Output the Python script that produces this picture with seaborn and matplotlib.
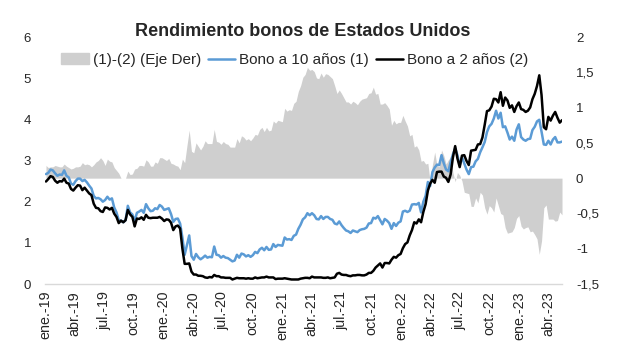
import matplotlib.pyplot as plt
import matplotlib.patches as mpatches
import matplotlib.lines as mlines
import numpy as np
import pandas as pd
import seaborn as sns

# weekly closes (friday), yields in %
bono10_2019 = [2.67, 2.70, 2.78, 2.76, 2.69, 2.63, 2.66, 2.65, 2.76, 2.63, 2.59, 2.44, 2.41,
               2.50, 2.56, 2.56, 2.50, 2.53, 2.47, 2.39, 2.32, 2.14, 2.08, 2.09, 2.06, 2.00,
               2.04, 2.12, 2.05, 2.08, 1.86, 1.74, 1.55, 1.54, 1.50, 1.55, 1.90, 1.74, 1.69,
               1.53, 1.73, 1.76, 1.80, 1.73, 1.94, 1.84, 1.77, 1.78, 1.84, 1.82, 1.92, 1.88]
bono2_2019 = [2.49, 2.55, 2.62, 2.60, 2.51, 2.46, 2.50, 2.49, 2.56, 2.46, 2.44, 2.31, 2.27,
              2.34, 2.40, 2.39, 2.28, 2.34, 2.27, 2.20, 2.16, 1.95, 1.85, 1.84, 1.77, 1.75,
              1.86, 1.85, 1.81, 1.85, 1.71, 1.63, 1.48, 1.54, 1.50, 1.55, 1.80, 1.69, 1.63,
              1.40, 1.59, 1.58, 1.62, 1.56, 1.68, 1.61, 1.60, 1.61, 1.61, 1.61, 1.63, 1.59]

bono10_2020 = [1.80, 1.82, 1.84, 1.70, 1.51, 1.58, 1.59, 1.47, 1.13, 0.71, 0.95, 1.18, 0.68,
               0.59, 0.73, 0.65, 0.60, 0.64, 0.69, 0.64, 0.66, 0.65, 0.91, 0.71, 0.70, 0.64,
               0.68, 0.64, 0.63, 0.59, 0.55, 0.57, 0.71, 0.64, 0.74, 0.72, 0.67, 0.70, 0.66,
               0.70, 0.78, 0.75, 0.84, 0.88, 0.82, 0.90, 0.83, 0.84, 0.97, 0.90, 0.95, 0.94]
bono2_2020 = [1.53, 1.57, 1.56, 1.49, 1.31, 1.40, 1.42, 1.35, 0.86, 0.49, 0.49, 0.50, 0.30,
              0.23, 0.23, 0.20, 0.20, 0.19, 0.16, 0.15, 0.17, 0.16, 0.22, 0.19, 0.19, 0.16,
              0.16, 0.15, 0.15, 0.15, 0.11, 0.13, 0.15, 0.14, 0.14, 0.14, 0.13, 0.14, 0.13,
              0.13, 0.16, 0.14, 0.15, 0.16, 0.16, 0.18, 0.16, 0.16, 0.16, 0.12, 0.13, 0.13]

bono10_2021 = [0.93, 1.13, 1.08, 1.09, 1.07, 1.17, 1.20, 1.34, 1.44, 1.57, 1.62, 1.72, 1.67,
               1.72, 1.67, 1.58, 1.57, 1.65, 1.58, 1.63, 1.63, 1.58, 1.56, 1.47, 1.45, 1.52,
               1.43, 1.36, 1.30, 1.28, 1.24, 1.30, 1.28, 1.26, 1.31, 1.33, 1.34, 1.37, 1.47,
               1.48, 1.61, 1.59, 1.65, 1.55, 1.45, 1.58, 1.54, 1.48, 1.34, 1.48, 1.41, 1.49, 1.52]
bono2_2021 = [0.13, 0.14, 0.13, 0.12, 0.11, 0.11, 0.11, 0.11, 0.13, 0.14, 0.15, 0.15, 0.14,
              0.18, 0.16, 0.16, 0.16, 0.16, 0.15, 0.15, 0.16, 0.14, 0.15, 0.16, 0.25, 0.27,
              0.23, 0.22, 0.22, 0.20, 0.19, 0.21, 0.21, 0.22, 0.22, 0.21, 0.21, 0.23, 0.27,
              0.27, 0.32, 0.40, 0.45, 0.50, 0.40, 0.51, 0.51, 0.50, 0.59, 0.66, 0.64, 0.70, 0.73]

bono10_2022 = [1.76, 1.78, 1.75, 1.78, 1.93, 1.94, 1.93, 1.97, 1.74, 2.00, 2.14, 2.48,
               2.38, 2.72, 2.83, 2.90, 2.89, 3.13, 2.93, 2.78, 2.74, 2.96, 3.15, 3.30, 3.13,
               2.88, 3.08, 2.93, 2.78, 2.67, 2.84, 2.85, 2.98, 3.04, 3.20, 3.32, 3.45, 3.69, 3.83,
               3.89, 4.02, 4.21, 4.02, 4.16, 3.81, 3.83, 3.68, 3.51, 3.58, 3.48, 3.75, 3.88]
bono2_2022 = [0.87, 0.97, 1.01, 1.18, 1.31, 1.50, 1.47, 1.57, 1.50, 1.75, 1.94, 2.27,
              2.44, 2.53, 2.46, 2.72, 2.73, 2.73, 2.61, 2.58, 2.48, 2.66, 3.07, 3.35, 3.05,
              2.84, 3.12, 3.13, 2.99, 2.89, 3.24, 3.25, 3.26, 3.39, 3.40, 3.56, 3.87, 4.20, 4.22,
              4.31, 4.50, 4.49, 4.41, 4.66, 4.33, 4.53, 4.46, 4.28, 4.34, 4.18, 4.32, 4.41]

bono10_2023 = [3.57, 3.51, 3.48, 3.52, 3.53, 3.74, 3.82, 3.95, 3.99, 3.70, 3.39, 3.38, 3.48,
               3.39, 3.51, 3.57, 3.44, 3.44, 3.46]
bono2_2023 = [4.25, 4.23, 4.18, 4.21, 4.29, 4.49, 4.62, 4.81, 5.07, 4.59, 3.81, 3.76, 4.06,
              3.97, 4.09, 4.18, 4.04, 3.92, 3.98]

meses = ["ene.", "abr.", "jul.", "oct."]
ticks_der = [-1.5, -1, -0.5, 0, 0.5, 1, 1.5, 2]

fechas = pd.date_range("2019-01-04", "2023-05-12", freq="W-FRI")
bono10 = bono10_2019 + bono10_2020 + bono10_2021 + bono10_2022 + bono10_2023
bono2 = bono2_2019 + bono2_2020 + bono2_2021 + bono2_2022 + bono2_2023
df = pd.DataFrame({"fecha": fechas, "bono10": bono10, "bono2": bono2})
df["spread"] = df.bono10 - df.bono2

sns.set_theme(style="white")
plt.rcParams['font.family'] = ['Liberation Sans', 'DejaVu Sans']

azul = "#5B9BD5"
gris = "#CFCFCF"

fig = plt.figure(figsize=(6.21, 3.63), dpi=100)
ax = fig.add_axes([0.0725, 0.2176, 0.8325, 0.6804])
ax2 = ax.twinx()

ax2.fill_between(df.fecha, df.spread, 0, color=gris, linewidth=0)
ax.set_zorder(ax2.get_zorder() + 1)
ax.patch.set_visible(False)

sns.lineplot(data=df, x="fecha", y="bono10", color=azul, lw=1.8, ax=ax)
sns.lineplot(data=df, x="fecha", y="bono2", color="black", lw=1.8, ax=ax)

ax.set_xlim(df.fecha.iloc[0], df.fecha.iloc[-1])
ax.set_ylim(0, 6)
ax2.set_ylim(-1.5, 2)
ax.set_xlabel("")
ax.set_ylabel("")

ax.set_yticks(range(7))
ax.set_yticklabels([str(v) for v in range(7)], fontsize=9.5)
ax2.set_yticks(ticks_der)
ax2.set_yticklabels([("%g" % v).replace(".", ",") for v in ticks_der], fontsize=9.5)

xt = pd.date_range("2019-01-01", "2023-04-01", freq="3MS")
ax.set_xticks(xt)
ax.set_xticklabels([meses[(d.month - 1) // 3] + "-" + d.strftime("%y") for d in xt],
                   rotation=90, fontsize=10.3)

ax.tick_params(axis="both", length=0)
ax.tick_params(axis="y", pad=10)
ax.tick_params(axis="x", pad=5)
ax2.tick_params(axis="y", length=0, pad=10)

for a in (ax, ax2):
    for s in a.spines.values():
        s.set_visible(False)
ax.spines["bottom"].set_visible(True)
ax.spines["bottom"].set_color("#D9D9D9")
ax.spines["bottom"].set_linewidth(1)

fig.text(0.487, 0.912, "Rendimiento bonos de Estados Unidos", ha="center", va="center",
         fontsize=13, fontweight="bold")

handles = [mpatches.Patch(color=gris, label="(1)-(2) (Eje Der)"),
           mlines.Line2D([], [], color=azul, lw=1.8, label="Bono a 10 años (1)"),
           mlines.Line2D([], [], color="black", lw=1.8, label="Bono a 2 años (2)")]
fig.legend(handles=handles, loc="center", bbox_to_anchor=(0.475, 0.835), ncol=3,
           frameon=False, fontsize=11, handlelength=1.8, handletextpad=0.25,
           columnspacing=0.45, borderpad=0, borderaxespad=0)

fig.savefig("out.png", dpi=100)
